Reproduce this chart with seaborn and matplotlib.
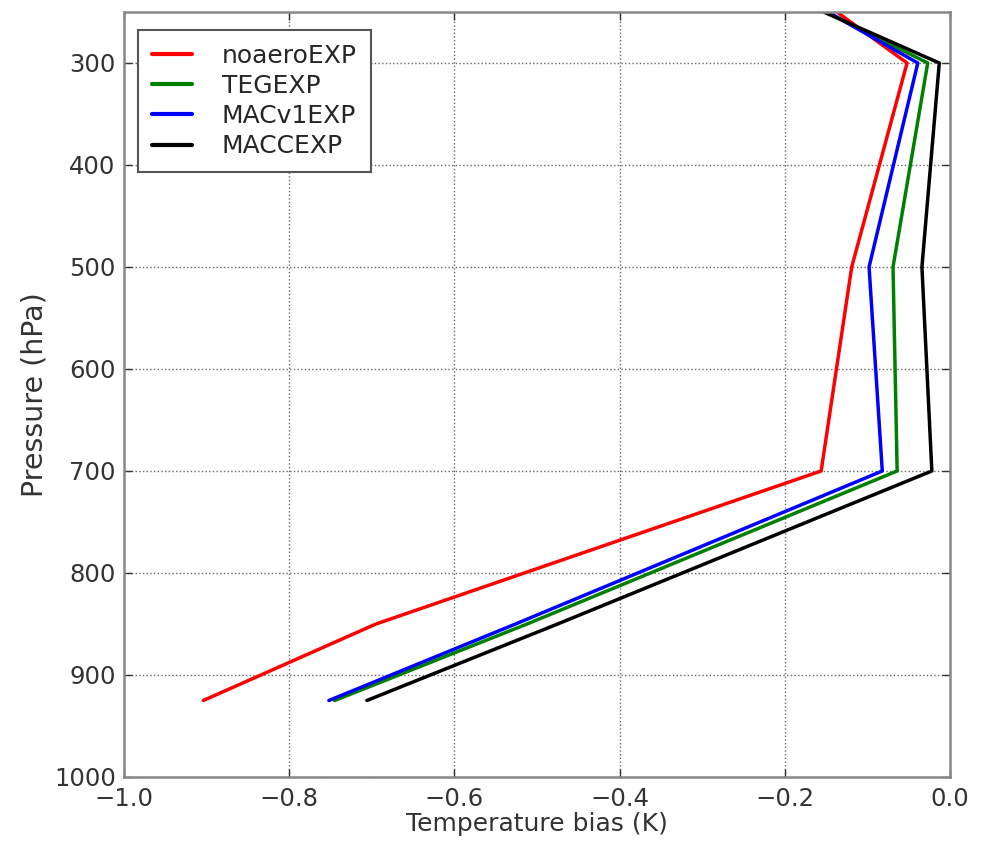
import matplotlib
matplotlib.use("Agg")
import matplotlib.pyplot as plt
import pandas as pd
import seaborn as sns

pressure_levels = [250, 300, 500, 700, 850, 925]
experiments = ["noaeroEXP", "TEGEXP", "MACv1EXP", "MACCEXP"]
bias_noaero = [-0.137, -0.052, -0.119, -0.156, -0.695, -0.904]
bias_teg = [-0.150, -0.027, -0.069, -0.064, -0.512, -0.745]
bias_macv1 = [-0.148, -0.039, -0.098, -0.082, -0.526, -0.752]
bias_macc = [-0.153, -0.013, -0.034, -0.022, -0.475, -0.706]
line_colors = ["red", "green", "blue", "black"]

sns.set_style("ticks")
plt.rcParams["font.family"] = ["DejaVu Sans"]

frames = []
for name, values in zip(experiments, [bias_noaero, bias_teg, bias_macv1, bias_macc]):
    frames.append(pd.DataFrame({"bias": values, "pressure": pressure_levels, "exp": name}))
data = pd.concat(frames, ignore_index=True)

fig = plt.figure(figsize=(9.86, 8.5), dpi=100)
ax = fig.add_axes([0.1258, 0.0859, 0.8377, 0.9000])

sns.lineplot(
    data=data,
    x="bias",
    y="pressure",
    hue="exp",
    hue_order=experiments,
    palette=line_colors,
    orient="y",
    sort=False,
    estimator=None,
    linewidth=2.5,
    ax=ax,
)

ax.set_xlim(-1.0, 0.0)
ax.set_ylim(1000, 250)
ax.set_xticks([-1.0, -0.8, -0.6, -0.4, -0.2, 0.0])
ax.set_yticks([300, 400, 500, 600, 700, 800, 900, 1000])
ax.grid(True, linestyle=":", color="#666666", linewidth=1.0)
ax.tick_params(direction="in", length=6, width=1, labelsize=17.5, colors="#333333",
               top=True, right=True)
ax.tick_params(axis="x", pad=7)
ax.tick_params(axis="y", pad=6)
for spine in ax.spines.values():
    spine.set_color("#888888")
    spine.set_linewidth(1.8)

ax.set_xlabel("Temperature bias (K)", fontsize=18, color="#333333", labelpad=1)
ax.set_ylabel("Pressure (hPa)", fontsize=20.5, color="#333333", labelpad=4)

leg = ax.legend(
    loc="upper left",
    bbox_to_anchor=(0.014, 0.98),
    fontsize=18,
    frameon=True,
    fancybox=False,
    edgecolor="#555555",
    framealpha=1.0,
    handlelength=1.6,
    handletextpad=1.2,
    labelspacing=0.25,
    borderpad=0.55,
    borderaxespad=0.1,
)
leg.get_frame().set_linewidth(1.5)
for handle in leg.get_lines():
    handle.set_linewidth(3.0)

fig.savefig("out.png", dpi=100)
